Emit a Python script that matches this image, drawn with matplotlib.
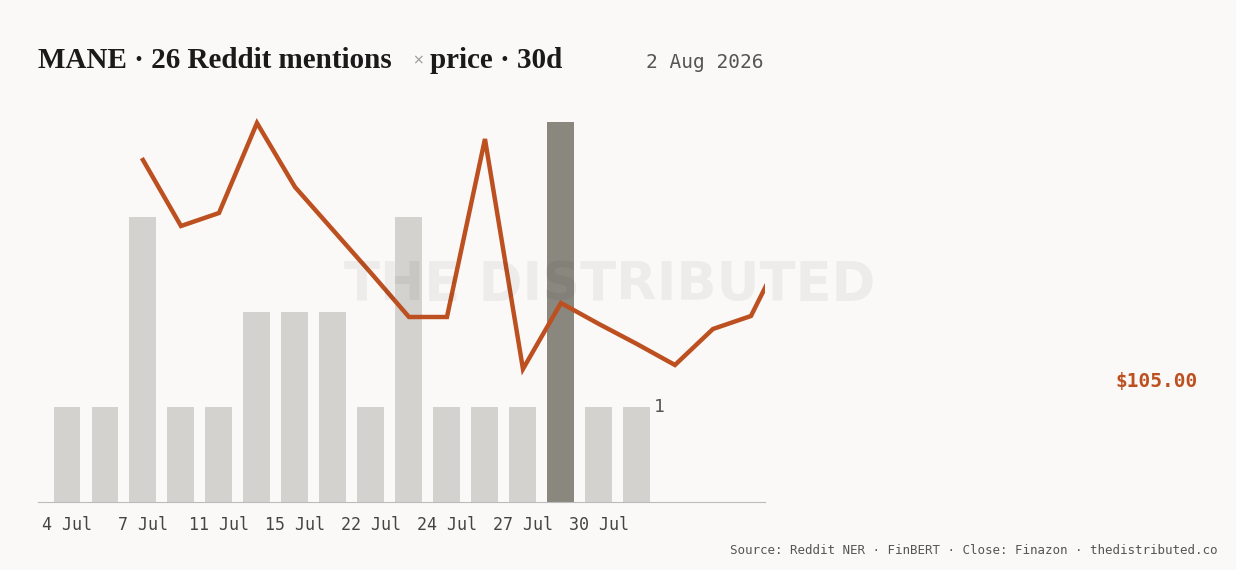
import matplotlib.pyplot as plt

W, H = 1236, 570
BG = "#faf9f7"

tick_labels = ["4 Jul", "7 Jul", "11 Jul", "15 Jul", "22 Jul", "24 Jul", "27 Jul", "30 Jul"]
mentions = [1, 1, 3, 1, 1, 2, 2, 2, 1, 3, 1, 1, 1, 4, 1, 1]
highlight = 13
price = [117.1, 113.8, 114.45, 118.95, 115.75, 113.6, 111.45, 109.25, 109.25,
         118.15, 106.65, 109.95, 108.9, 107.9, 106.85, 108.65, 109.3, 113.1]
price_start = 2

fig = plt.figure(figsize=(W / 100, H / 100), dpi=100, facecolor=BG)
ax = fig.add_axes([38 / W, 1 - 502 / H, (765 - 38) / W, 400 / H])
ax.set_facecolor("none")

xs = list(range(len(mentions)))
colors = ["#8a877f" if i == highlight else "#d3d2ce" for i in xs]
ax.bar(xs, mentions, width=0.71, color=colors, zorder=2)
ax.set_xlim(-0.763, 18.37)
ax.set_ylim(0, 400 / 95)
ax.set_xticks(xs[::2])
ax.set_xticklabels(tick_labels, fontfamily="DejaVu Sans Mono", fontsize=12, color="#444")
ax.tick_params(axis="x", length=0, pad=10)
ax.set_yticks([])
for s in ["top", "right", "left"]:
    ax.spines[s].set_visible(False)
ax.spines["bottom"].set_color("#bbbbbb")
ax.text(xs[-1] + 0.45, mentions[-1], "1", fontfamily="DejaVu Sans Mono", fontsize=13,
        color="#555", va="center", ha="left")

ax2 = ax.twinx()
ax2.set_ylim(100, 120)
ax2.axis("off")
px = list(range(price_start, price_start + len(price)))
ax2.plot(px, price, color="#bd5020", lw=3.2, zorder=3, solid_joinstyle="miter")

fig.text(610 / W, 1 - 285 / H, "THE DISTRIBUTED", fontsize=38, fontweight="bold",
         color="#000000", alpha=0.05, ha="center", va="center")
fig.text(38 / W, 1 - 60 / H, "MANE · 26 Reddit mentions", fontfamily="Liberation Serif",
         fontweight="bold", fontsize=21, color="#1a1a1a", va="center")
fig.text(412 / W, 1 - 60 / H, "×", fontsize=10, color="#999", va="center")
fig.text(430 / W, 1 - 60 / H, "price · 30d", fontfamily="Liberation Serif",
         fontweight="bold", fontsize=21, color="#1a1a1a", va="center")
fig.text(763 / W, 1 - 63 / H, "2 Aug 2026", fontfamily="DejaVu Sans Mono", fontsize=14,
         color="#555", ha="right", va="center")
fig.text(1198 / W, 1 - 382 / H, "$105.00", fontfamily="DejaVu Sans Mono", fontsize=14,
         fontweight="bold", color="#bd5020", ha="right", va="center")
fig.text(1218 / W, 1 - 550 / H, "Source: Reddit NER · FinBERT · Close: Finazon · thedistributed.co",
         fontfamily="DejaVu Sans Mono", fontsize=9, color="#555", ha="right", va="center")

fig.savefig("out.png", dpi=100, facecolor=BG)
